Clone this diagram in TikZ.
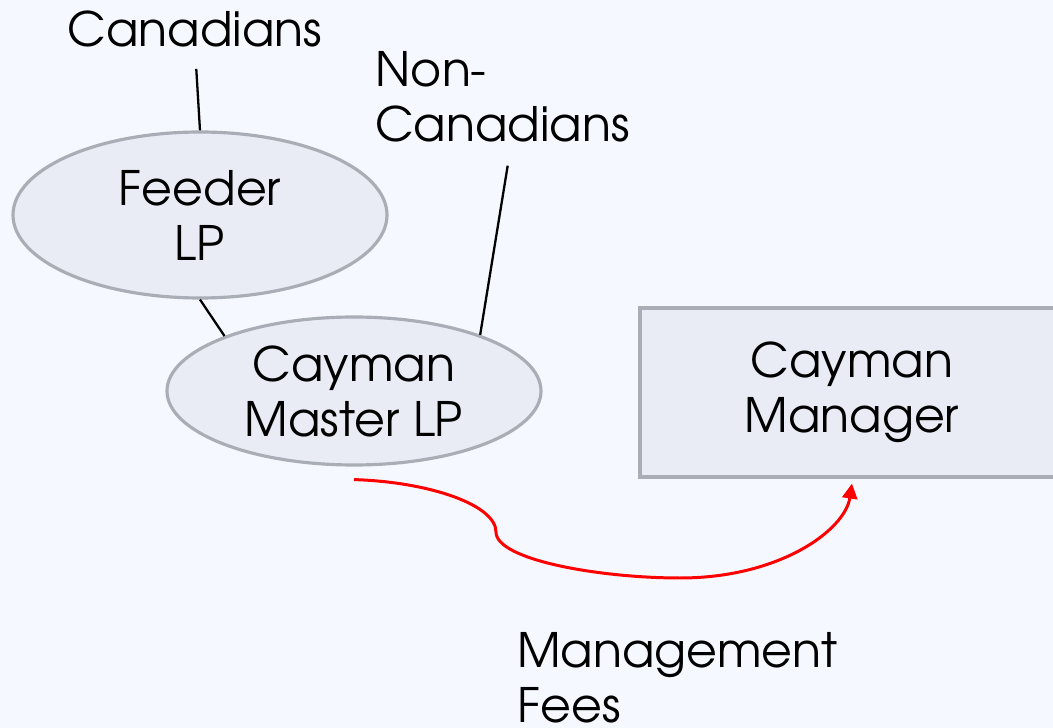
\documentclass[tikz,border=0pt]{standalone}
\usepackage{fontspec}
\setmainfont{TeX Gyre Adventor}
\usetikzlibrary{arrows.meta,shapes.geometric}

\definecolor{hintergrund}{HTML}{F5F8FE}
\definecolor{blasen}{HTML}{E9ECF5}
\definecolor{rand}{HTML}{A9ADB5}

\begin{document}
\begin{tikzpicture}[
    schrift/.style={
      font=\fontsize{27}{31.3}\selectfont},
    blase/.style={
      ellipse,
      schrift,
      align=center,
      inner sep=0pt,
      fill=blasen,
      draw=rand,
      line width=1.8pt},
    kasten/.style={
      rectangle,
      schrift,
      align=center,
      inner sep=0pt,
      fill=blasen,
      draw=rand,
      line width=1.8pt},
    beschriftung/.style={
      schrift,
      align=left,
      inner sep=0pt}
    ]

  \fill[hintergrund] (0,0) rectangle (21.06,-14.56);
  \useasboundingbox (0,0) rectangle (21.06,-14.56);

  \node at (3.9,-0.94) (kanadier) [beschriftung, anchor=base] {Canadians};
  \node at (7.5,-2.84) (auslaender) [beschriftung, anchor=base west] {Non-\\Canadians};

  \node at (4.0,-4.3) (feeder) [blase, minimum width=7.48cm, minimum height=3.32cm] {Feeder\\LP};
  \node at (7.08,-7.82) (master) [blase, minimum width=7.48cm, minimum height=2.96cm] {Cayman\\Master LP};

  \node at (17.04,-7.85) (manager) [kasten, minimum width=8.48cm, minimum height=3.38cm] {Cayman\\Manager};

  \node at (10.34,-14.46) (gebuehren) [beschriftung, anchor=base west] {Management\\Fees};

  \path  [line width=1.3pt, shorten <=0.42cm] (kanadier.south) edge [] (feeder.north);
  \path  [line width=1.3pt] (feeder.south) edge [] (master.157);
  \path  [line width=1.3pt, shorten <=0.46cm] ([xshift=0.18cm]auslaender.south) edge [] (master.24);

  \draw  [red, line width=1.7pt, -{Triangle[length=0.3cm, width=0.3cm]}]
    ([yshift=-0.26cm]master.south) .. controls (8.6,-9.64) and (9.92,-10.1) .. (9.92,-10.64)
      .. controls (9.92,-11.2) and (12.0,-11.56) .. (13.6,-11.56)
      .. controls (15.6,-11.56) and (16.9,-10.6) .. ([yshift=-0.1cm]manager.south);

\end{tikzpicture}
\end{document}
